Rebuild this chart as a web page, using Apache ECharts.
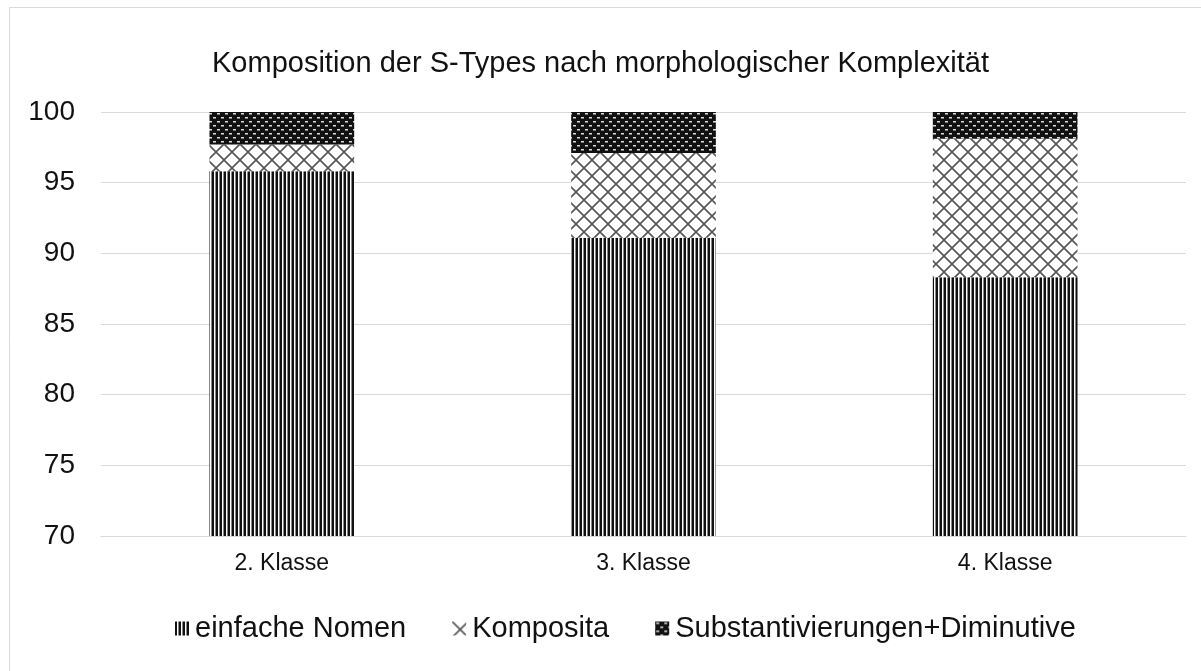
<!DOCTYPE html>
<html lang="de">
<head>
<meta charset="utf-8">
<title>Komposition der S-Types</title>
<script src="https://cdn.jsdelivr.net/npm/echarts@6/dist/echarts.min.js"></script>
<style>
  html, body { margin: 0; padding: 0; background: #fff; }
  #chart { width: 1201px; height: 671px; }
</style>
</head>
<body>
<div id="chart"></div>
<script>
// Daten
const categories = ['2. Klasse', '3. Klasse', '4. Klasse'];
const einfacheNomen = [95.8, 91.1, 88.3];
const komposita = [1.9, 6.0, 9.8];
const substDimin = [2.3, 2.9, 1.9];
const yTicks = [70, 75, 80, 85, 90, 95, 100];

const FONT = '"Liberation Sans", Arial, sans-serif';

/**
 * Muster-Canvas erzeugen
 */
function makePattern(w, h, draw) {
  const c = document.createElement('canvas');
  c.width = w;
  c.height = h;
  const ctx = c.getContext('2d');
  draw(ctx, w, h);
  return { image: c, repeat: 'repeat' };
}

// senkrechte Streifen
const stripePattern = makePattern(4, 4, (ctx) => {
  ctx.fillStyle = '#ffffff';
  ctx.fillRect(0, 0, 4, 4);
  ctx.fillStyle = '#111111';
  ctx.fillRect(0, 0, 2, 4);
  ctx.fillStyle = '#888888';
  ctx.fillRect(3, 0, 1, 4);
});

// Rautengitter
const crossPattern = makePattern(16, 16, (ctx) => {
  ctx.fillStyle = '#ffffff';
  ctx.fillRect(0, 0, 16, 16);
  ctx.strokeStyle = '#555555';
  ctx.lineWidth = 1.6;
  ctx.beginPath();
  ctx.moveTo(-2, -2); ctx.lineTo(18, 18);
  ctx.moveTo(18, -2); ctx.lineTo(-2, 18);
  ctx.stroke();
});

// dunkles Karomuster
const checkPattern = makePattern(8, 8, (ctx) => {
  ctx.fillStyle = '#111111';
  ctx.fillRect(0, 0, 8, 8);
  ctx.fillStyle = '#dddddd';
  ctx.fillRect(1, 1, 3, 1);
  ctx.fillRect(5, 5, 3, 1);
  ctx.fillStyle = '#777777';
  ctx.fillRect(1, 2, 3, 1);
  ctx.fillRect(5, 6, 3, 1);
});

const chart = echarts.init(document.getElementById('chart'));

const option = {
  animation: false,
  backgroundColor: '#ffffff',
  title: {
    text: 'Komposition der S-Types nach morphologischer Komplexität',
    left: 'center',
    top: 44,
    textStyle: {
      fontFamily: FONT,
      fontSize: 29,
      fontWeight: 'normal',
      color: '#111',
    },
  },
  legend: {
    data: ['einfache Nomen', 'Komposita', 'Substantivierungen+Diminutive'],
    bottom: 23,
    left: 170,
    itemWidth: 14,
    itemHeight: 14,
    itemGap: 46,
    icon: 'rect',
    textStyle: {
      fontFamily: FONT,
      fontSize: 29,
      color: '#111',
      padding: [0, 0, 0, 1],
    },
  },
  grid: {
    left: 101,
    right: 15,
    top: 112,
    bottom: 135,
  },
  xAxis: {
    type: 'category',
    data: categories,
    axisLine: { lineStyle: { color: '#d9d9d9', width: 1 } },
    axisTick: { show: false },
    axisLabel: {
      fontFamily: FONT,
      fontSize: 23,
      color: '#111',
      margin: 16,
    },
  },
  yAxis: {
    type: 'value',
    min: yTicks[0],
    max: yTicks[yTicks.length - 1],
    interval: 5,
    axisLine: { show: false },
    axisTick: { show: false },
    axisLabel: {
      fontFamily: FONT,
      fontSize: 28,
      color: '#111',
      margin: 26,
    },
    splitLine: { lineStyle: { color: '#d9d9d9', width: 1 } },
  },
  series: [
    {
      name: 'einfache Nomen',
      type: 'bar',
      stack: 'total',
      barWidth: '40%',
      data: einfacheNomen,
      itemStyle: { color: stripePattern },
    },
    {
      name: 'Komposita',
      type: 'bar',
      stack: 'total',
      data: komposita,
      itemStyle: { color: crossPattern },
    },
    {
      name: 'Substantivierungen+Diminutive',
      type: 'bar',
      stack: 'total',
      data: substDimin,
      itemStyle: { color: checkPattern },
    },
  ],
  graphic: [
    {
      type: 'rect',
      silent: true,
      shape: { x: 9.5, y: 7.5, width: 1250, height: 720 },
      style: { fill: 'none', stroke: '#d9d9d9', lineWidth: 1 },
    },
  ],
};

chart.setOption(option);
</script>
</body>
</html>
